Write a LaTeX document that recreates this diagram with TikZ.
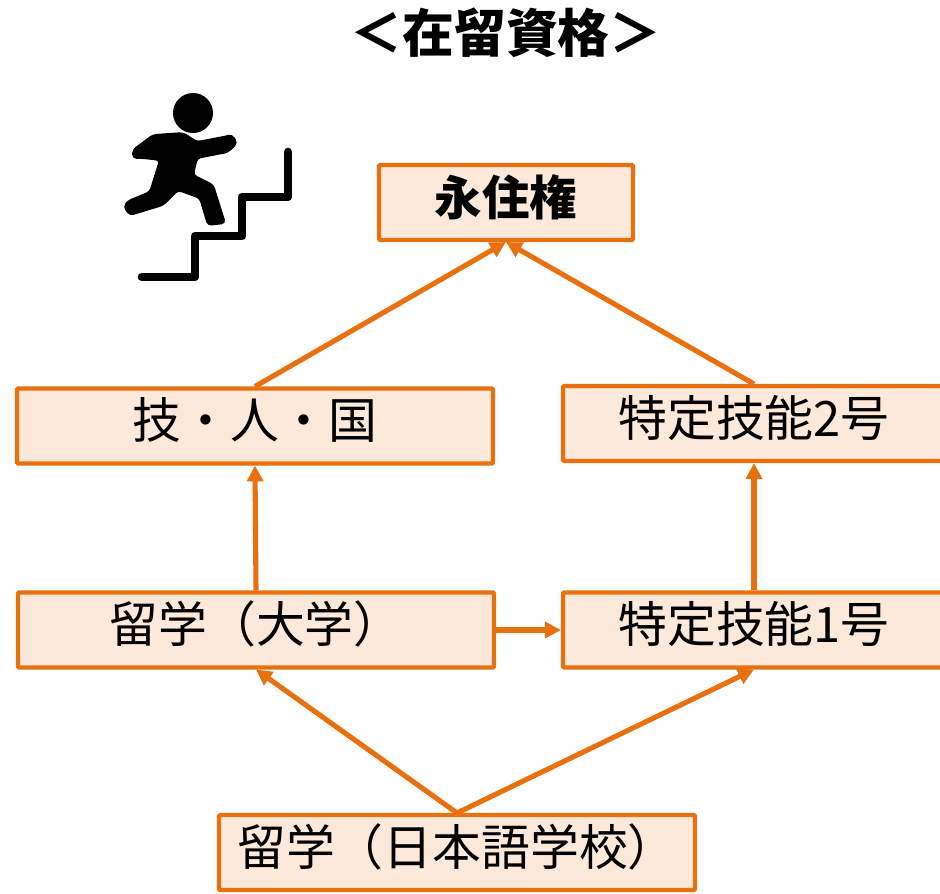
\documentclass[tikz,border=0pt]{standalone}
\usepackage{fontspec}
\setmainfont{Noto Sans CJK JP}
\usetikzlibrary{shapes,arrows.meta}
\definecolor{statusline}{RGB}{232,112,14}
\definecolor{statusfill}{RGB}{253,233,218}
\tikzstyle{block} = [rectangle, draw=statusline, fill=statusfill, line width=2.3pt,
    text centered, rounded corners=0.6pt, minimum height=75*0.02cm, inner sep=0pt,
    text height=24pt, text depth=9.6pt, font=\fontsize{27.8}{32}\selectfont]
\tikzstyle{line} = [draw=statusline, line width=2.9pt, -{Triangle[length=9pt,width=9pt]}]
\tikzstyle{stair} = [draw=black, line width=5pt, line cap=round, line join=round]
\tikzstyle{runner} = [draw=black, fill=black, line width=1pt, rounded corners=2pt]

\begin{document}
\begin{tikzpicture}[x=0.02cm, y=-0.02cm]
\useasboundingbox (0,0) rectangle (940,893);

\node (title) at (506,33) {\fontsize{29.5}{36}\selectfont\bfseries ＜在留資格＞};

% status boxes
\node [block, minimum width=254*0.02cm] (perm) at (506,202.5) {\fontsize{27}{32}\selectfont\bfseries 永住権};
\node [block, minimum width=476*0.02cm] (gijin) at (255,426) {技・人・国};
\node [block, minimum width=382*0.02cm] (tok2) at (754,423.5) {特定技能2号};
\node [block, minimum width=476*0.02cm] (daigaku) at (256,630) {留学（大学）};
\node [block, minimum width=382*0.02cm] (tok1) at (754,630) {特定技能1号};
\node [block, minimum width=476*0.02cm] (nihongo) at (457,852.5) {留学（日本語学校）};

\path [line] (gijin.north) -- (perm.south);
\path [line] (tok2.north) -- (perm.south);
\path [line] (daigaku.north) -- (gijin.south);
\path [line] (tok1.north) -- (tok2.south);
\path [line] (daigaku.east) -- (tok1.west);
\path [line] (nihongo.north) -- (daigaku.south);
\path [line] (nihongo.north) -- (tok1.south);

% runner on the stairs
\fill [black] (193,113) circle (20);
\draw [runner] (133,158) -- (133,150) -- (153,135) -- (183,133) -- (197,142) -- (223,137)
    -- (232,135) -- (237,143) -- (228,152) -- (197,158) -- (193,175) -- (213,185) -- (225,223)
    -- (208,225) -- (200,198) -- (178,190) -- (163,205) -- (130,215) -- (124,207) -- (128,201)
    -- (150,192) -- (160,160) -- (143,158) -- cycle;
\draw [stair] (142,277) -- (195,277) -- (195,236) -- (242,236) -- (242,197) -- (288,197) -- (288,152);
\end{tikzpicture}
\end{document}
